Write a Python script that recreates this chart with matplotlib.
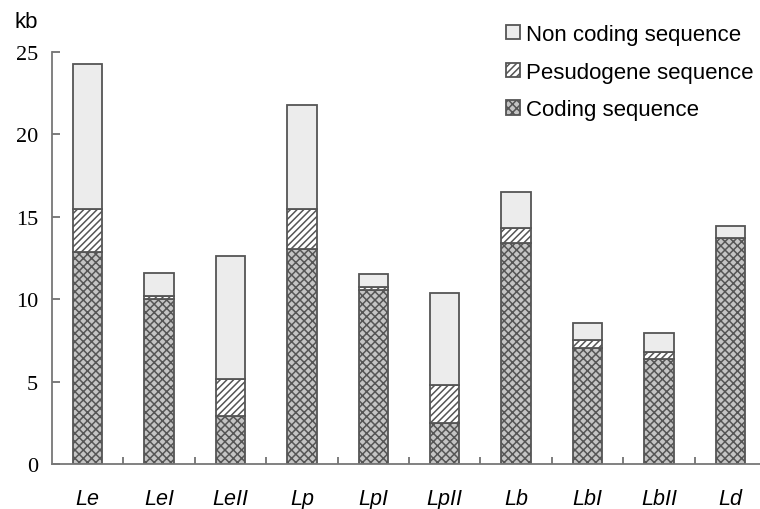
import numpy as np
import matplotlib.pyplot as plt
import matplotlib as mpl

labels = ['Le', 'LeI', 'LeII', 'Lp', 'LpI', 'LpII', 'Lb', 'LbI', 'LbII', 'Ld']
coding = [12.85, 10.0, 2.9, 13.05, 10.55, 2.5, 13.4, 7.04, 6.37, 13.71]
pseudo = [2.6, 0.2, 2.26, 2.42, 0.17, 2.29, 0.9, 0.5, 0.45, 0.0]
noncoding = [8.85, 1.37, 7.48, 6.31, 0.81, 5.57, 2.19, 1.02, 1.11, 0.71]

mpl.rcParams['hatch.linewidth'] = 1.1

fig = plt.figure(figsize=(7.6, 5.1), dpi=100)
ax = fig.add_axes([52 / 760, 45 / 510, 714 / 760, 412 / 510])

x = np.arange(len(labels))
edge = '#555555'
w = 0.41

mpl.rcParams['hatch.color'] = '#505050'
b1 = ax.bar(x, coding, w, color='#c4c4c4', edgecolor=edge, hatch='xxxx', linewidth=1.3)
b2 = ax.bar(x, pseudo, w, bottom=coding, color='white', edgecolor=edge, hatch='/////', linewidth=1.3)
bot2 = np.array(coding) + np.array(pseudo)
b3 = ax.bar(x, noncoding, w, bottom=bot2, color='#ececec', edgecolor=edge, linewidth=1.3)

ax.set_xlim(-0.5, len(labels) - 0.5)
ax.set_ylim(0, 25)
ax.set_yticks([0, 5, 10, 15, 20, 25])
ax.set_yticklabels(['0', '5', '10', '15', '20', '25'], family='Liberation Serif', fontsize=16)
ax.tick_params(axis='y', direction='in', length=6, width=1.2, color='#666666', pad=10)

ax.set_xticks(x)
ax.set_xticklabels(labels, family='Liberation Sans', style='italic', fontsize=15.5)
ax.tick_params(axis='x', length=0, pad=17)
ax.set_xticks(np.arange(0.5, len(labels) - 0.5, 1), minor=True)
ax.tick_params(axis='x', which='minor', direction='in', length=5, width=1.2, color='#666666')

for s in ['top', 'right']:
    ax.spines[s].set_visible(False)
for s in ['left', 'bottom']:
    ax.spines[s].set_color('#777777')
    ax.spines[s].set_linewidth(1.3)

fig.text(15 / 760, 1 - 22 / 510, 'kb', family='Liberation Sans', fontsize=16, va='center')

ax.legend([b3, b2, b1], ['Non coding sequence', 'Pesudogene sequence', 'Coding sequence'],
          loc='upper left', bbox_to_anchor=(454 / 714, 1 + 28 / 412), frameon=False,
          prop={'family': 'Liberation Sans', 'size': 16}, handlelength=0.62, handleheight=0.62,
          handletextpad=0.3, labelspacing=0.75, borderaxespad=0, borderpad=0)

fig.savefig('out.png', dpi=100)
